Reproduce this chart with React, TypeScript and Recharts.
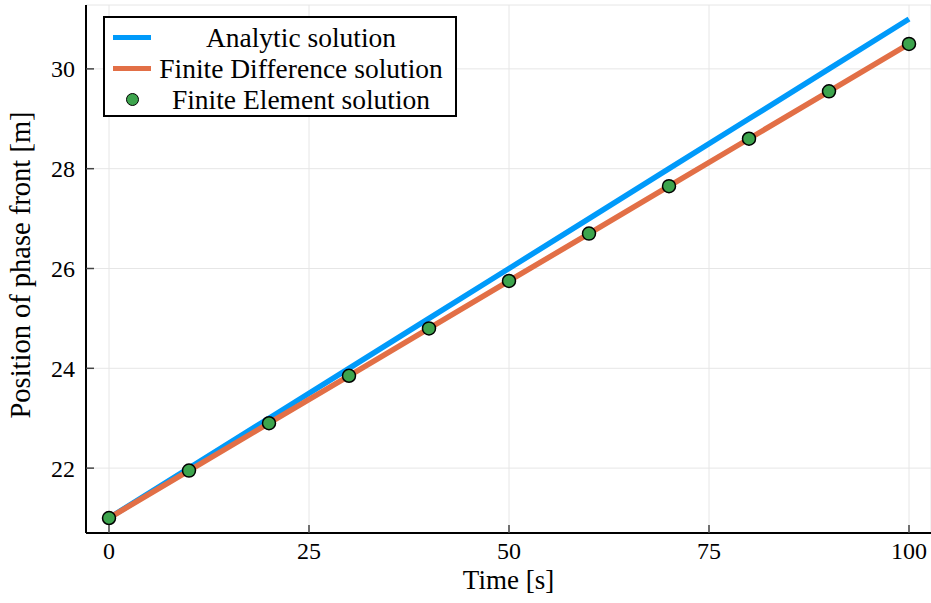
import React from "react";
import { ComposedChart, Line, Scatter, XAxis, YAxis, CartesianGrid, Legend } from "recharts";

const times = [0, 10, 20, 30, 40, 50, 60, 70, 80, 90, 100];
const analytic = [21, 22, 23, 24, 25, 26, 27, 28, 29, 30, 31];
const finiteDifference = [21, 21.95, 22.9, 23.85, 24.8, 25.75, 26.7, 27.65, 28.6, 29.55, 30.5];
const finiteElement = [21, 21.95, 22.9, 23.85, 24.8, 25.75, 26.7, 27.65, 28.6, 29.55, 30.5];
const xTicks = [0, 25, 50, 75, 100];
const yTicks = [22, 24, 26, 28, 30];

const BLUE = "#009AFA";
const ORANGE = "#E26F46";
const GREEN = "#3DA44D";
const FONT = "'Liberation Serif', 'DejaVu Serif', serif";

const data = times.map((t, i) => ({
  t,
  analytic: analytic[i],
  fd: finiteDifference[i],
  fe: finiteElement[i],
}));

function XTick({ x, y, payload }: any) {
  return (
    <g>
      <line x1={x} x2={x} y1={y} y2={y - 8} stroke="#444" strokeWidth={1.5} />
      <text x={x} y={y + 26} textAnchor="middle" fontFamily={FONT} fontSize={24} fill="#000">
        {payload.value}
      </text>
    </g>
  );
}

function YTick({ x, y, payload }: any) {
  return (
    <g>
      <line x1={x} x2={x + 8} y1={y} y2={y} stroke="#444" strokeWidth={1.5} />
      <text x={x - 11} y={y + 8.5} textAnchor="end" fontFamily={FONT} fontSize={24} fill="#000">
        {payload.value}
      </text>
    </g>
  );
}

function Dot(props: any) {
  const { cx, cy } = props;
  return <circle cx={cx} cy={cy} r={6.5} fill={GREEN} stroke="#000" strokeWidth={1.5} />;
}

const legendRows = [
  { name: "Analytic solution", kind: "line", color: BLUE },
  { name: "Finite Difference solution", kind: "line", color: ORANGE },
  { name: "Finite Element solution", kind: "dot", color: GREEN },
];

function LegendBox() {
  return (
    <div
      style={{
        width: 354,
        height: 101,
        boxSizing: "border-box",
        border: "2px solid #000",
        background: "#fff",
        paddingTop: 4,
      }}
    >
      {legendRows.map((r) => (
        <div key={r.name} style={{ display: "flex", alignItems: "center", height: 31 }}>
          <div style={{ width: 38, marginLeft: 8, display: "flex", justifyContent: "center" }}>
            {r.kind === "line" ? (
              <div style={{ width: 38, height: 5.5, background: r.color }} />
            ) : (
              <div
                style={{
                  width: 13,
                  height: 13,
                  borderRadius: "50%",
                  background: r.color,
                  border: "1.5px solid #000",
                  boxSizing: "border-box",
                }}
              />
            )}
          </div>
          <div
            style={{
              flex: 1,
              textAlign: "center",
              fontFamily: FONT,
              fontSize: 27.5,
              color: "#000",
              lineHeight: "31px",
              paddingRight: 4,
              whiteSpace: "nowrap",
            }}
          >
            {r.name}
          </div>
        </div>
      ))}
    </div>
  );
}

export default function App() {
  return (
    <div style={{ position: "absolute", left: 0, top: 0, width: 931, height: 603, background: "#fff" }}>
      <ComposedChart width={931} height={603} data={data} margin={{ top: 5, right: 0, left: 0, bottom: 0 }}>
        <CartesianGrid stroke="#e6e6e6" strokeWidth={1} />
        <XAxis
          dataKey="t"
          type="number"
          domain={[-2.875, 102.75]}
          ticks={xTicks}
          allowDataOverflow
          height={70}
          axisLine={{ stroke: "#000", strokeWidth: 2 }}
          tickLine={false}
          tickSize={0}
          tickMargin={0}
          tick={<XTick />}
          label={{
            content: () => (
              <text x={508.5} y={589} textAnchor="middle" fontFamily={FONT} fontSize={27} fill="#000">
                Time [s]
              </text>
            ),
          }}
        />
        <YAxis
          type="number"
          domain={[20.7, 31.28]}
          ticks={yTicks}
          allowDataOverflow
          width={86}
          axisLine={{ stroke: "#000", strokeWidth: 2 }}
          tickLine={false}
          tickSize={0}
          tickMargin={0}
          tick={<YTick />}
          label={{
            content: () => (
              <text
                x={30}
                y={265}
                transform="rotate(-90 30 265)"
                textAnchor="middle"
                fontFamily={FONT}
                fontSize={28.5}
                fill="#000"
              >
                Position of phase front [m]
              </text>
            ),
          }}
        />
        <Legend
          layout="horizontal"
          verticalAlign="middle"
          align="center"
          wrapperStyle={{ left: 103, top: 16, width: 354, height: 101 }}
          content={() => <LegendBox />}
        />
        <Line dataKey="analytic" stroke={BLUE} strokeWidth={5.5} dot={false} isAnimationActive={false} />
        <Line dataKey="fd" stroke={ORANGE} strokeWidth={5.5} dot={false} isAnimationActive={false} />
        <Scatter dataKey="fe" fill={GREEN} shape={<Dot />} isAnimationActive={false} />
      </ComposedChart>
    </div>
  );
}
